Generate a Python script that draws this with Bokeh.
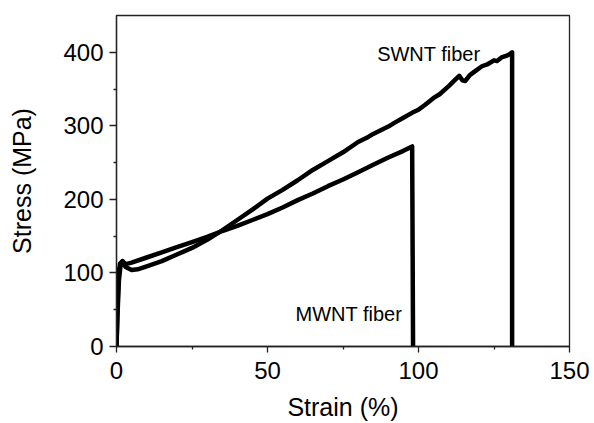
from bokeh.plotting import figure
from bokeh.models import Label, Range1d, FixedTicker
from bokeh.embed import file_html
from bokeh.resources import INLINE

# SWNT fiber stress-strain curve
swnt_strain = [0, 0.3, 0.8, 1.4, 2.0, 3.0, 5.0, 7.0, 10, 15, 20, 25, 30, 35, 40, 45, 50,
               55, 60, 65, 70, 75, 80, 83, 85, 88, 90, 92, 95, 98, 100, 102, 105, 107,
               110, 112, 113.5, 114.5, 115.5, 117, 119, 121, 123, 125, 126, 127.5, 129,
               130, 131, 131]
swnt_stress = [0, 40, 90, 112, 116, 108, 104, 105, 109, 116, 125, 134, 145, 158, 172, 186, 201,
               213, 226, 240, 252, 264, 278, 284, 289, 295, 299, 304, 311, 318, 322, 328, 338, 343,
               354, 362, 368, 362, 361, 369, 375, 381, 384, 389, 388, 393, 395,
               397, 400, 0]

# MWNT fiber stress-strain curve
mwnt_strain = [0, 0.3, 0.7, 1.2, 2.0, 3.0, 5, 10, 15, 20, 25, 30, 35, 40, 45, 50, 55, 60,
               65, 70, 75, 80, 85, 90, 95, 97.9, 98.2]
mwnt_stress = [0, 50, 100, 113, 116, 112, 114, 121, 128, 135, 142, 149, 157, 164, 172, 180,
               189, 199, 208, 218, 227, 237, 247, 257, 266, 272, 0]

x_ticks = [0, 50, 100, 150]
y_ticks = [0, 100, 200, 300, 400]

p = figure(width=594, height=423, output_backend="svg", toolbar_location=None,
           x_range=Range1d(0, 150), y_range=Range1d(0, 450),
           min_border_left=116, min_border_right=25, min_border_top=15, min_border_bottom=75)

p.line(swnt_strain, swnt_stress, line_color="black", line_width=4.5, line_join="round")
p.line(mwnt_strain, mwnt_stress, line_color="black", line_width=4.5, line_join="round")

p.add_layout(Label(x=86.3, y=397.8, text="SWNT fiber", text_font="Liberation Sans",
                   text_font_size="20px", text_color="black", text_baseline="alphabetic"))
p.add_layout(Label(x=59.3, y=44, text="MWNT fiber", text_font="Liberation Sans",
                   text_font_size="20px", text_color="black", text_baseline="alphabetic"))

p.xgrid.visible = False
p.ygrid.visible = False
p.outline_line_color = "#222222"
p.outline_line_width = 1.3

p.xaxis.ticker = FixedTicker(ticks=x_ticks, minor_ticks=[25, 75, 125])
p.yaxis.ticker = FixedTicker(ticks=y_ticks, minor_ticks=[50, 150, 250, 350])
p.xaxis.axis_label = "Strain (%)"
p.yaxis.axis_label = "Stress (MPa)"

for ax in (p.xaxis[0], p.yaxis[0]):
    ax.axis_line_color = "#222222"
    ax.axis_line_width = 1.3
    ax.major_tick_line_color = "#222222"
    ax.minor_tick_line_color = "#222222"
    ax.major_tick_line_width = 1.3
    ax.minor_tick_line_width = 1.3
    ax.major_tick_out = 6
    ax.major_tick_in = 0
    ax.minor_tick_out = 3
    ax.minor_tick_in = 0
    ax.major_label_text_font = "Liberation Sans"
    ax.major_label_text_font_size = "24px"
    ax.major_label_text_color = "black"
    ax.axis_label_text_font = "Liberation Sans"
    ax.axis_label_text_font_size = "25px"
    ax.axis_label_text_font_style = "normal"
    ax.axis_label_text_color = "black"

p.yaxis.major_tick_out = 7
p.yaxis.major_label_standoff = 6
p.yaxis.axis_label_standoff = 24
p.xaxis.major_label_standoff = 9
p.xaxis.axis_label_standoff = 11

open("out.html", "w").write(file_html(p, INLINE))
